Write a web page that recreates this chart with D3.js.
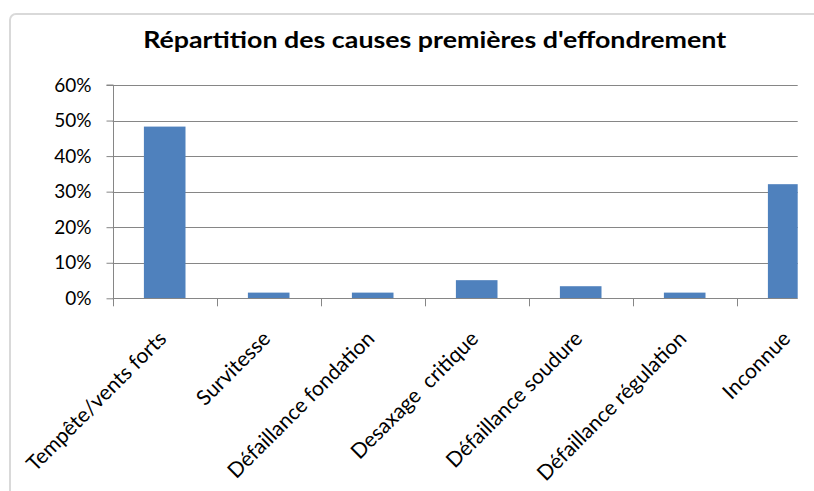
<!DOCTYPE html>
<html>
<head>
<meta charset="utf-8">
<script src="https://cdn.jsdelivr.net/npm/d3@7"></script>
<style>
  html, body { margin: 0; padding: 0; background: #ffffff; }
  svg { display: block; }
  text { font-family: Lato, "Open Sans", sans-serif; fill: #000; }
  .xlabel { white-space: pre; }
</style>
</head>
<body>
<svg id="chart" width="814" height="491"></svg>
<script>
// Causes of collapse and their share of cases
const categories = [
  "Tempête/vents forts",
  "Survitesse",
  "Défaillance fondation",
  "Desaxage  critique",
  "Défaillance soudure",
  "Défaillance régulation",
  "Inconnue"
];
const shares = [0.483, 0.016, 0.016, 0.051, 0.034, 0.016, 0.321];
const yTicks = [0, 0.1, 0.2, 0.3, 0.4, 0.5, 0.6];
const titleText = "Répartition des causes premières d'effondrement";

const svg = d3.select("#chart");
const W = 814, H = 491;

const plot = { left: 112.7, top: 85, bottom: 298.3, right: 840.7, visibleRight: 797.7 };

svg.append("rect").attr("width", W).attr("height", H).attr("fill", "#fff");

// Chart frame
svg.append("rect")
  .attr("x", 10).attr("y", 14)
  .attr("width", 830).attr("height", 500)
  .attr("rx", 6)
  .attr("fill", "none")
  .attr("stroke", "#d9d9d9")
  .attr("stroke-width", 2);

// Title
svg.append("text")
  .attr("x", 434.7).attr("y", 48.3)
  .attr("text-anchor", "middle")
  .attr("font-size", 23)
  .attr("font-weight", "bold")
  .attr("textLength", 583)
  .attr("lengthAdjust", "spacingAndGlyphs")
  .text(titleText);

const x = d3.scaleBand()
  .domain(categories)
  .range([plot.left, plot.right])
  .paddingInner(0.6)
  .paddingOuter(0.3);

const y = d3.scaleLinear()
  .domain([0, 0.6])
  .range([plot.bottom, plot.top]);

svg.append("defs").append("clipPath").attr("id", "plotClip")
  .append("rect")
  .attr("x", 0).attr("y", 0)
  .attr("width", plot.visibleRight).attr("height", H);

const g = svg.append("g").attr("clip-path", "url(#plotClip)");

const axisColor = "#868686";

// Horizontal gridlines
g.selectAll("line.grid")
  .data(yTicks.filter(t => t > 0))
  .join("line")
  .attr("class", "grid")
  .attr("x1", plot.left).attr("x2", plot.right)
  .attr("y1", d => Math.round(y(d)) + 0.5).attr("y2", d => Math.round(y(d)) + 0.5)
  .attr("stroke", axisColor)
  .attr("stroke-width", 1);

// Bars
g.selectAll("rect.bar")
  .data(categories.map((c, i) => ({ c, v: shares[i] })))
  .join("rect")
  .attr("class", "bar")
  .attr("x", d => x(d.c))
  .attr("width", x.bandwidth())
  .attr("y", d => y(d.v))
  .attr("height", d => y(0) - y(d.v))
  .attr("fill", "#4f81bd");

// X axis: baseline and boundary ticks
const step = x.step();
const boundaries = d3.range(categories.length + 1).map(i => plot.left + i * step);
g.append("line")
  .attr("x1", plot.left).attr("x2", plot.right)
  .attr("y1", Math.round(y(0)) + 0.5).attr("y2", Math.round(y(0)) + 0.5)
  .attr("stroke", axisColor);
g.selectAll("line.xtick")
  .data(boundaries)
  .join("line")
  .attr("class", "xtick")
  .attr("x1", d => Math.round(d) + 0.5).attr("x2", d => Math.round(d) + 0.5)
  .attr("y1", y(0)).attr("y2", y(0) + 8)
  .attr("stroke", axisColor);

// Y axis
const yAxis = d3.axisLeft(y)
  .tickValues(yTicks)
  .tickSize(7)
  .tickPadding(15)
  .tickFormat(d3.format(".0%"));
const ya = svg.append("g")
  .attr("transform", `translate(${Math.round(plot.left) + 0.5},0)`)
  .call(yAxis);
ya.select(".domain").attr("stroke", axisColor).attr("d", `M-7,${plot.top}H0V${plot.bottom + 2}`);
ya.selectAll(".tick line").attr("stroke", axisColor);
ya.selectAll(".tick text")
  .attr("font-family", "Lato, sans-serif")
  .attr("font-size", 19)
  .attr("fill", "#000");

// Category labels, rotated
svg.selectAll("text.xlabel")
  .data(categories)
  .join("text")
  .attr("class", "xlabel")
  .attr("text-anchor", "end")
  .attr("font-size", 21)
  .attr("transform", d => `translate(${x(d) + x.bandwidth() / 2 + 3},340) rotate(-45)`)
  .text(d => d);
</script>
</body>
</html>
